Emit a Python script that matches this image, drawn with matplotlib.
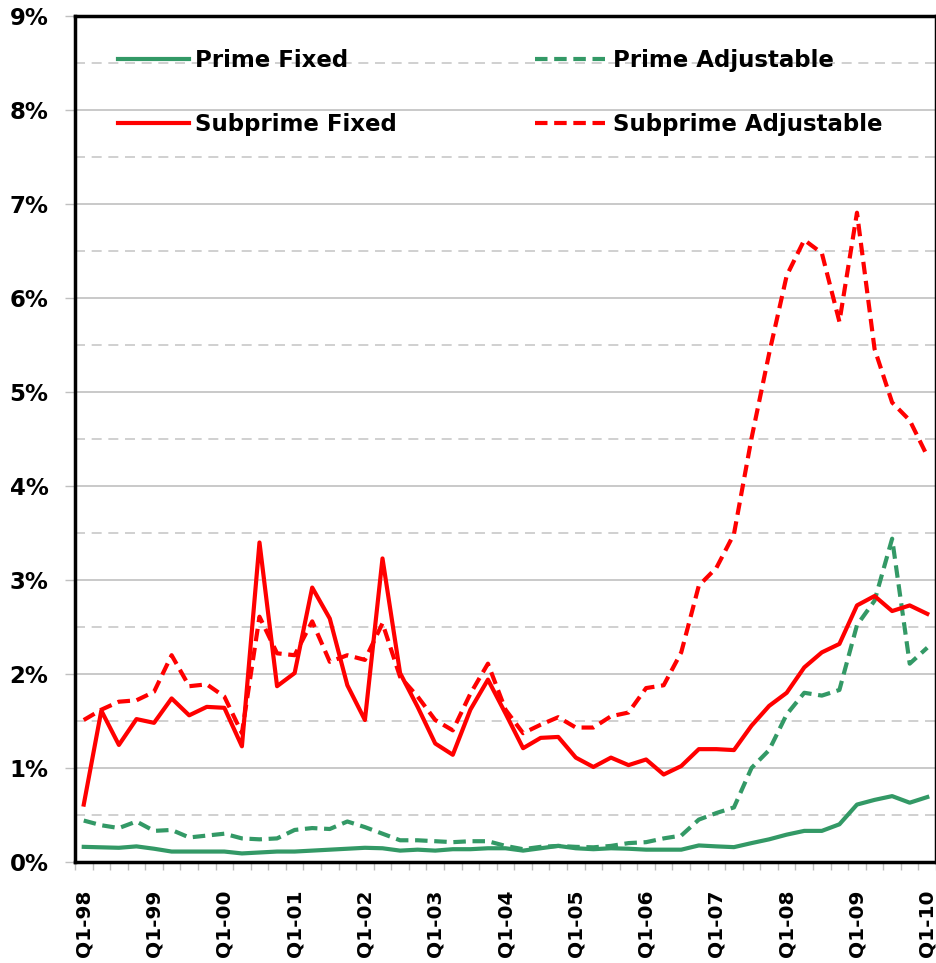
import matplotlib.pyplot as plt
from matplotlib.ticker import FixedLocator

# ——— Datos (tasas trimestrales, %) ———
years = ['98', '99', '00', '01', '02', '03', '04', '05', '06', '07', '08', '09', '10']
quarters = list(range(49))  # Q1-98 .. Q1-10

prime_fixed = [0.16, 0.155, 0.15, 0.165, 0.14, 0.11, 0.11, 0.11, 0.11, 0.09,
               0.10, 0.11, 0.11, 0.12, 0.13, 0.14, 0.15, 0.145, 0.12, 0.13,
               0.12, 0.135, 0.135, 0.145, 0.145, 0.12, 0.145, 0.17, 0.145, 0.135,
               0.145, 0.14, 0.13, 0.13, 0.13, 0.175, 0.165, 0.157, 0.20, 0.24,
               0.29, 0.33, 0.33, 0.40, 0.61, 0.66, 0.70, 0.63, 0.69]

prime_adj = [0.44, 0.39, 0.36, 0.43, 0.33, 0.34, 0.26, 0.28, 0.30, 0.25,
             0.24, 0.25, 0.34, 0.36, 0.35, 0.43, 0.37, 0.30, 0.23, 0.23,
             0.22, 0.21, 0.22, 0.22, 0.17, 0.135, 0.16, 0.17, 0.16, 0.155,
             0.17, 0.20, 0.21, 0.25, 0.28, 0.45, 0.52, 0.58, 1.00, 1.19,
             1.57, 1.80, 1.77, 1.83, 2.52, 2.78, 3.44, 2.11, 2.28]

sub_fixed = [0.61, 1.61, 1.245, 1.52, 1.48, 1.74, 1.56, 1.65, 1.64, 1.23,
             3.40, 1.87, 2.01, 2.92, 2.59, 1.88, 1.51, 3.23, 2.01, 1.65,
             1.26, 1.14, 1.62, 1.94, 1.58, 1.21, 1.32, 1.33, 1.11, 1.01,
             1.11, 1.03, 1.09, 0.93, 1.02, 1.20, 1.20, 1.19, 1.45, 1.66,
             1.80, 2.07, 2.23, 2.32, 2.73, 2.83, 2.67, 2.73, 2.64]

sub_adj = [1.51, 1.62, 1.705, 1.72, 1.81, 2.20, 1.87, 1.89, 1.76, 1.37,
           2.61, 2.22, 2.20, 2.56, 2.13, 2.20, 2.15, 2.54, 1.97, 1.76,
           1.51, 1.40, 1.79, 2.11, 1.62, 1.37, 1.46, 1.54, 1.43, 1.43,
           1.55, 1.59, 1.85, 1.88, 2.23, 2.94, 3.13, 3.49, 4.51, 5.41,
           6.24, 6.62, 6.48, 5.75, 6.91, 5.46, 4.89, 4.70, 4.32]

GREEN = '#339966'
RED = '#FF0000'

plt.rcParams['font.family'] = ['DejaVu Sans']
plt.rcParams['font.weight'] = 'bold'

fig = plt.figure(figsize=(9.37, 9.63), dpi=100)
ax = fig.add_axes([0.080, 0.105, 0.919, 0.878])

lw = 3.0
l_pf, = ax.plot(quarters, prime_fixed, color=GREEN, lw=lw, label='Prime Fixed')
l_pa, = ax.plot(quarters, prime_adj, color=GREEN, lw=lw, dashes=(3, 1.6),
                label='Prime Adjustable')
l_sa, = ax.plot(quarters, sub_adj, color=RED, lw=lw, dashes=(3, 1.6),
                label='Subprime Adjustable')
l_sf, = ax.plot(quarters, sub_fixed, color=RED, lw=lw, label='Subprime Fixed')

# ——— Ejes ———
ax.set_xlim(-0.5, 48.5)
ax.set_ylim(0, 9)

ax.yaxis.set_major_locator(FixedLocator(range(10)))
ax.yaxis.set_minor_locator(FixedLocator([k + 0.5 for k in range(9)]))
ax.set_yticklabels([f'{k}%' for k in range(10)], fontsize=16.5, fontweight='bold')
ax.tick_params(axis='y', which='major', direction='out', length=7, color='#c0c0c0',
               width=1, pad=12)
ax.tick_params(axis='y', which='minor', length=0)

ax.grid(True, axis='y', which='major', color='#c0c0c0', lw=1.2)
ax.grid(True, axis='y', which='minor', color='#c8c8c8', lw=1.2, ls=(0, (6, 4)))
ax.set_axisbelow(True)

ax.xaxis.set_major_locator(FixedLocator(list(range(0, 49, 4))))
ax.set_xticklabels([f'Q1-{y}' for y in years], rotation=90, fontsize=14.5,
                   fontweight='bold')
ax.xaxis.set_minor_locator(FixedLocator([k - 0.5 for k in range(50)]))
ax.tick_params(axis='x', which='major', length=0, pad=20)
ax.tick_params(axis='x', which='minor', direction='out', length=6,
               color='#c0c0c0', width=1)

for s in ax.spines.values():
    s.set_linewidth(2.5)
    s.set_color('black')

ax.legend(handles=[l_pf, l_sf, l_pa, l_sa], ncol=2, frameon=False,
          loc='upper left', bbox_to_anchor=(0.0255, 0.986),
          handlelength=3.1, columnspacing=6.0, labelspacing=1.8,
          handletextpad=0.3, prop={'weight': 'bold', 'size': 16.5})

fig.savefig('out.png', dpi=100)
